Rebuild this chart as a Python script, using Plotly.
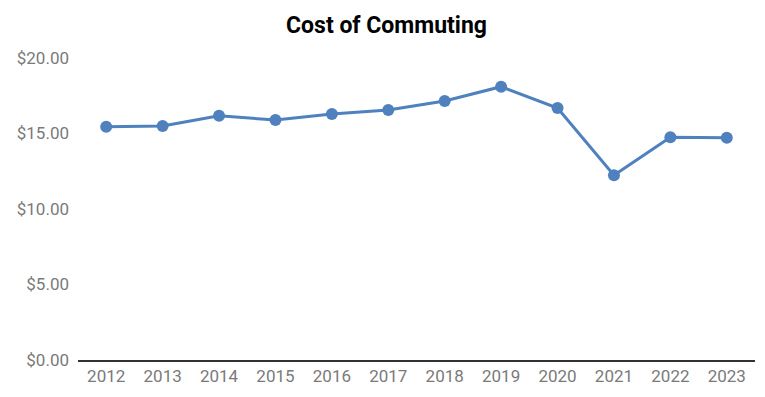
import plotly.graph_objects as go

years = ["2012", "2013", "2014", "2015", "2016", "2017", "2018", "2019", "2020", "2021", "2022", "2023"]
cost = [15.45, 15.50, 16.18, 15.89, 16.29, 16.56, 17.15, 18.10, 16.69, 12.23, 14.75, 14.72]
y_ticks = [0, 5, 10, 15, 20]

fig = go.Figure(go.Scatter(
    x=years, y=cost, mode="lines+markers",
    line=dict(color="#4e81bd", width=3),
    marker=dict(color="#4e81bd", size=12),
))

# The page body adds an 8px offset, so the figure is sized to fit the window.
fig.update_layout(
    width=757, height=389,
    paper_bgcolor="white", plot_bgcolor="white",
    margin=dict(l=70, r=10, t=50, b=37),
    showlegend=False,
    font=dict(family="Roboto", size=17, color="#7a7a7a"),
    title=dict(text="<b>Cost of Commuting</b>", x=0.5, xanchor="center", y=0.957, yanchor="middle",
               font=dict(family="Roboto", size=23, color="black")),
)
fig.update_xaxes(type="category", range=[-0.5, 11.5], showline=True, linecolor="#333333", linewidth=1.5,
                 showgrid=False, ticks="", zeroline=False)
fig.update_yaxes(range=[0, 20], tickvals=y_ticks, tickformat="$.2f", showgrid=False, zeroline=False,
                 showline=False, ticks="", ticklabelstandoff=8)

fig.write_html("out.html")
